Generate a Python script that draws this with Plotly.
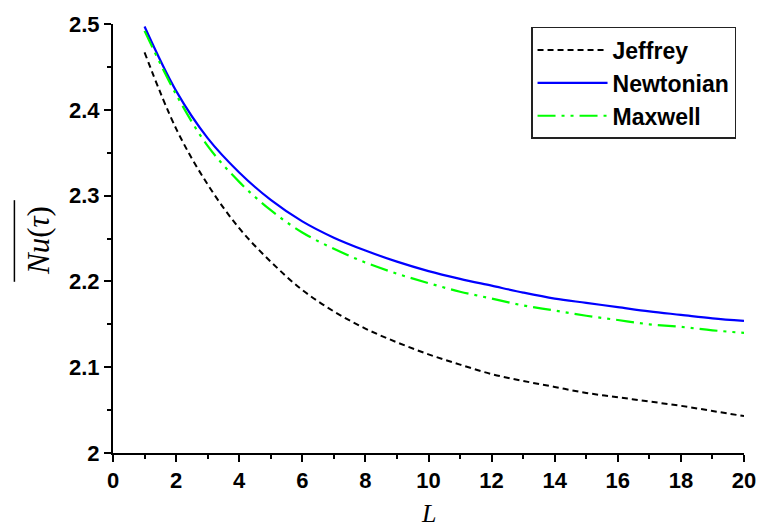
import plotly.graph_objects as go

L = [1, 2, 3, 4, 5, 6, 7, 8, 9, 10, 11, 12, 13, 14, 15, 16, 17, 18, 19, 20]
jeffrey = [2.467, 2.378, 2.313, 2.262, 2.223, 2.190, 2.165, 2.145, 2.129, 2.115,
           2.103, 2.092, 2.084, 2.077, 2.070, 2.065, 2.060, 2.055, 2.049, 2.043]
newtonian = [2.497, 2.422, 2.367, 2.327, 2.295, 2.270, 2.251, 2.236, 2.223, 2.212,
             2.203, 2.195, 2.187, 2.180, 2.175, 2.170, 2.165, 2.161, 2.157, 2.154]
maxwell = [2.492, 2.418, 2.358, 2.316, 2.283, 2.257, 2.238, 2.222, 2.209, 2.198,
           2.188, 2.180, 2.172, 2.166, 2.160, 2.155, 2.150, 2.147, 2.143, 2.140]

x_ticks = [0, 2, 4, 6, 8, 10, 12, 14, 16, 18, 20]
y_ticks = [2.0, 2.1, 2.2, 2.3, 2.4, 2.5]
y_tick_text = ["2", "2.1", "2.2", "2.3", "2.4", "2.5"]

fig = go.Figure()
fig.add_trace(go.Scatter(x=L, y=jeffrey, mode="lines", name="Jeffrey", legendgroup="a",
                         line=dict(color="black", width=2, dash="6px,4px", shape="spline")))
fig.add_trace(go.Scatter(x=L, y=newtonian, mode="lines", name="Newtonian", legendgroup="b",
                         line=dict(color="#0000ff", width=2.2, shape="spline")))
fig.add_trace(go.Scatter(x=L, y=maxwell, mode="lines", name="Maxwell", legendgroup="c",
                         line=dict(color="#00ff00", width=2.2, dash="18px,6px,3px,6px,3px,6px",
                                   shape="spline")))

font = "Liberation Sans, Arial, sans-serif"
fig.update_layout(
    width=768, height=532,
    margin=dict(l=113, r=15, t=22, b=79),
    plot_bgcolor="white", paper_bgcolor="white",
    font=dict(family=font, size=22, color="black"),
    showlegend=True,
    legend=dict(x=(537 - 113) / 640, y=1 + (22 - 25) / 431, xanchor="left", yanchor="top",
                bgcolor="white", bordercolor="#222222", borderwidth=1.5,
                font=dict(family=font, size=23, color="black", weight="bold"),
                itemwidth=70, tracegroupgap=6, traceorder="normal"),
    xaxis=dict(range=[0, 20], tickvals=x_ticks, ticktext=[str(v) for v in x_ticks],
               showgrid=False, zeroline=False, showline=True, linecolor="black", linewidth=2,
               ticks="outside", ticklen=7, tickwidth=2, tickcolor="black",
               minor=dict(dtick=1, ticks="outside", ticklen=4, tickwidth=2, tickcolor="black"),
               tickfont=dict(family=font, size=22, weight="bold")),
    yaxis=dict(range=[2.0, 2.5], tickvals=y_ticks, ticktext=y_tick_text,
               showgrid=False, zeroline=False, showline=True, linecolor="black", linewidth=2,
               ticks="outside", ticklen=7, tickwidth=2, tickcolor="black",
               minor=dict(dtick=0.05, ticks="outside", ticklen=4, tickwidth=2, tickcolor="black"),
               tickfont=dict(family=font, size=22, weight="bold")),
)

serif = "Liberation Serif, Times New Roman, serif"
# axis titles
fig.add_annotation(text="<i>L</i>", xref="paper", yref="paper", x=(433 - 113) / 640,
                   y=(453 - 514) / 431, xanchor="center", yanchor="middle", showarrow=False,
                   font=dict(family=serif, size=26))
fig.add_annotation(text="<i>Nu</i>(<i>τ</i>)", xref="paper", yref="paper",
                   x=(38 - 113) / 640, y=(453 - 240) / 431,
                   xanchor="center", yanchor="middle", showarrow=False, textangle=-90,
                   font=dict(family=serif, size=31))
# overline of the y title
fig.add_shape(type="line", xref="paper", yref="paper",
              x0=(13 - 113) / 640, x1=(13 - 113) / 640,
              y0=(453 - 199) / 431, y1=(453 - 281) / 431,
              line=dict(color="black", width=1.5))

fig.write_html("out.html")
